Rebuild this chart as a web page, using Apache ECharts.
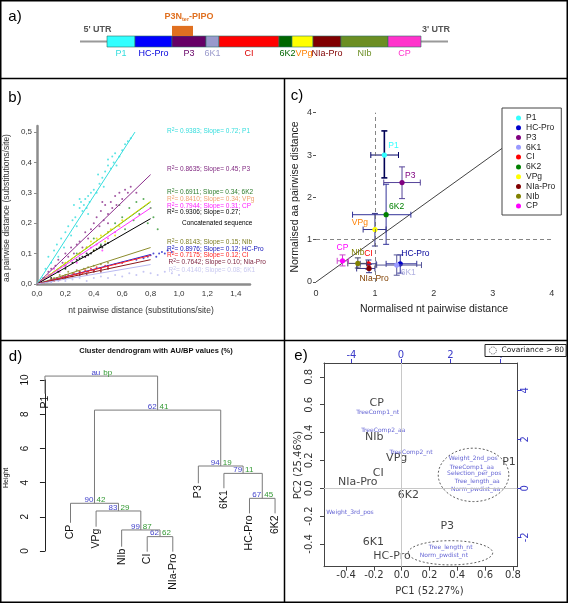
<!DOCTYPE html>
<html><head><meta charset="utf-8">
<script src="https://cdn.jsdelivr.net/npm/echarts@6/dist/echarts.min.js"></script>
<style>html,body{margin:0;padding:0;background:#fff}#c{width:568px;height:603px}</style>
</head><body><div id="c"></div>
<script>
// ================= DATA =================
// a) genome map (schematic units along the polyprotein)
const genomeLength = 368;
const geneNames = ['P1','HC-Pro','P3','6K1','CI','6K2','VPg','NIa-Pro','NIb','CP'];
const geneStart = [27,55,92,126,139,199,212,233,261,308];
const geneEnd   = [55,92,126,139,199,212,233,261,308,341];
const pipoSpan  = [92,113];

// b) aa vs nt pairwise distances
const bXTicks = [0,0.2,0.4,0.6,0.8,1.0,1.2,1.4];
const bYTicks = [0,0.1,0.2,0.3,0.4,0.5];
const bNames  = ['P1','P3','6K2','VPg','CP','Concatenated sequence','NIb','HC-Pro','CI','NIa-Pro','6K1'];
const bR2     = ['0.9383','0.8635','0.6911','0.8410','0.7944','0.9306','0.8143','0.8976','0.7175','0.7642','0.4140'];
const bSlope  = ['0.72','0.45','0.34','0.34','0.31','0.27','0.15','0.12','0.12','0.10','0.08'];
const bLineEnd = [[0.69,0.5],[0.8,0.36],[0.8,0.27],[0.8,0.272],[0.8,0.25],[0.8,0.215],[0.8,0.12],[0.8,0.097],[0.8,0.094],[0.8,0.08],[0.8,0.064]];
const ptsP1 = [[0.04,0.02],[0.06,0.05],[0.08,0.09],[0.1,0.07],[0.12,0.11],[0.14,0.13],[0.15,0.09],[0.17,0.15],[0.19,0.12],[0.2,0.17],[0.22,0.19],[0.24,0.16],[0.25,0.21],[0.27,0.22],[0.28,0.19],[0.3,0.25],[0.31,0.27],[0.32,0.24],[0.33,0.26],[0.34,0.28],[0.35,0.25],[0.36,0.29],[0.37,0.27],[0.38,0.3],[0.36,0.23],[0.4,0.31],[0.42,0.3],[0.44,0.33],[0.46,0.35],[0.48,0.37],[0.5,0.39],[0.5,0.41],[0.52,0.38],[0.53,0.42],[0.54,0.4],[0.55,0.43],[0.56,0.39],[0.58,0.42],[0.6,0.44],[0.62,0.46],[0.64,0.47],[0.66,0.48],[0.3,0.28],[0.26,0.26],[0.43,0.36],[0.47,0.32]];
const ptsP3 = [[0.05,0.02],[0.08,0.04],[0.1,0.05],[0.13,0.06],[0.15,0.08],[0.18,0.07],[0.2,0.1],[0.22,0.09],[0.24,0.12],[0.26,0.1],[0.28,0.13],[0.3,0.14],[0.32,0.12],[0.34,0.17],[0.36,0.15],[0.38,0.18],[0.4,0.2],[0.42,0.22],[0.44,0.19],[0.45,0.24],[0.47,0.21],[0.48,0.26],[0.5,0.23],[0.52,0.27],[0.53,0.25],[0.55,0.29],[0.56,0.26],[0.58,0.3],[0.6,0.28],[0.62,0.31],[0.64,0.3],[0.66,0.32],[0.7,0.3],[0.5,0.2],[0.46,0.27]];
const pts6K2 = [[0.1,0.03],[0.2,0.06],[0.28,0.1],[0.35,0.12],[0.4,0.15],[0.45,0.13],[0.5,0.17],[0.55,0.2],[0.6,0.22],[0.62,0.18],[0.65,0.25],[0.68,0.21],[0.7,0.27],[0.72,0.23],[0.75,0.28],[0.78,0.2],[0.8,0.25],[0.82,0.22],[0.85,0.18],[0.58,0.26]];
const ptsVPg = [[0.1,0.03],[0.2,0.07],[0.3,0.1],[0.35,0.12],[0.38,0.14],[0.4,0.11],[0.42,0.15],[0.45,0.16],[0.48,0.14],[0.5,0.17],[0.52,0.18],[0.55,0.16],[0.58,0.19],[0.6,0.21]];
const ptsCP  = [[0.08,0.03],[0.12,0.05],[0.16,0.04],[0.2,0.06],[0.24,0.08],[0.28,0.07],[0.3,0.1],[0.34,0.09],[0.38,0.12],[0.42,0.13],[0.46,0.11],[0.5,0.15],[0.55,0.17]];
const ptsConcat = [[0.1,0.02],[0.15,0.04],[0.2,0.05],[0.25,0.07],[0.28,0.08],[0.3,0.085],[0.32,0.09],[0.34,0.09],[0.35,0.1],[0.36,0.095],[0.38,0.1],[0.4,0.11],[0.42,0.115],[0.44,0.12],[0.45,0.125],[0.46,0.12],[0.48,0.13],[0.5,0.135]];
const ptsNIb = [[0.08,0.01],[0.12,0.02],[0.16,0.03],[0.2,0.03],[0.22,0.04],[0.25,0.035],[0.28,0.045],[0.3,0.04],[0.33,0.05],[0.36,0.055],[0.4,0.06],[0.45,0.065],[0.5,0.07]];
const ptsHCPro = [[0.2,0.02],[0.3,0.035],[0.35,0.04],[0.4,0.045],[0.45,0.05],[0.5,0.06],[0.6,0.07],[0.7,0.08],[0.75,0.085],[0.78,0.09],[0.8,0.095],[0.82,0.1],[0.84,0.09],[0.86,0.1],[0.88,0.105],[0.9,0.1],[0.92,0.11],[0.95,0.105]];
const ptsCI = [[0.05,0.005],[0.08,0.01],[0.1,0.015],[0.12,0.01],[0.14,0.02],[0.16,0.015],[0.18,0.025],[0.2,0.02],[0.22,0.03],[0.24,0.025],[0.26,0.035],[0.28,0.03],[0.3,0.04],[0.32,0.035],[0.34,0.045],[0.36,0.04],[0.38,0.05],[0.4,0.045],[0.42,0.055],[0.45,0.05],[0.48,0.06],[0.5,0.055],[0.55,0.065],[0.6,0.07]];
const ptsNIaPro = [[0.1,0.01],[0.15,0.015],[0.2,0.02],[0.25,0.025],[0.3,0.03],[0.35,0.03],[0.4,0.04],[0.45,0.04],[0.5,0.05]];
const pts6K1 = [[0.1,0.005],[0.15,0.01],[0.2,0.01],[0.25,0.015],[0.3,0.02],[0.35,0.01],[0.4,0.02],[0.45,0.025],[0.5,0.02],[0.55,0.03],[0.6,0.025],[0.65,0.035],[0.7,0.03],[0.75,0.04],[0.8,0.035],[0.85,0.03],[0.9,0.04],[0.95,0.035],[1.0,0.03]];

// c) normalised distances: value, low, high
const cNames = ['P1','HC-Pro','P3','6K1','CI','6K2','VPg','NIa-Pro','NIb','CP'];
const cNt    = [1.16,1.43,1.46,1.37,0.89,1.19,1.00,0.90,0.71,0.45];
const cNtLo  = [0.93,1.19,1.15,1.03,0.75,0.62,0.80,0.69,0.54,0.36];
const cNtHi  = [1.40,1.71,1.77,1.79,1.02,1.61,1.19,1.00,0.86,0.55];
const cAa    = [3.00,0.43,2.35,0.40,0.43,1.59,1.24,0.32,0.44,0.50];
const cAaLo  = [2.46,0.21,1.97,0.16,0.30,0.89,0.85,0.22,0.33,0.38];
const cAaHi  = [3.57,0.64,2.72,0.64,0.52,2.31,1.62,0.42,0.57,0.64];
const cIdentity = [[0,0],[4,4]];
const cTicks = [0,1,2,3,4];

// d) dendrogram (R hclust style merge matrix)
const dLeaves = ['P1','CP','VPg','NIb','CI','NIa-Pro','P3','6K1','HC-Pro','6K2'];
const dLeafEnd = [9.2,1.65,1.42,0.25,-0.04,-0.04,3.96,3.67,2.2,2.2];
const dMerge  = [[-5,-6],[-4,1],[-3,2],[-2,3],[-9,-10],[-8,5],[-7,6],[4,7],[-1,8]];
const dHeight = [0.84,1.23,2.34,2.79,3.08,4.54,4.97,8.24,10.23];
const dAU = ['62','99','83','90','67','79','94','62','au'];
const dBP = ['62','87','29','42','45','11','19','41','bp'];
const dTicks = [0,2,4,6,8,10];

// e) PCA biplot
const eSamples = ['CP','NIb','VPg','CI','NIa-Pro','6K2','P1','P3','6K1','HC-Pro'];
const eSampleX = [-0.18,-0.197,-0.036,-0.168,-0.316,0.048,0.772,0.328,-0.204,-0.07];
const eSampleY = [0.61,0.365,0.215,0.108,0.043,-0.048,0.19,-0.27,-0.39,-0.49];
const eVars = ['TreeComp1_nt','TreeComp2_aa','TreeComp2_nt','Weight_2nd_pos','TreeComp1_aa','Selection_per_pos','Tree_length_aa','Norm_pwdist_aa','Weight_3rd_pos','Tree_length_nt','Norm_pwdist_nt'];
const eVarX = [-0.173,-0.132,0.067,0.515,0.504,0.522,0.544,0.532,-0.372,0.352,0.304];
const eVarY = [0.547,0.414,0.259,0.216,0.148,0.103,0.048,-0.007,-0.173,-0.427,-0.485];
const eEllipses = [[0.517,0.096,0.254,0.192],[0.351,-0.464,0.304,0.087]];
const ePCTicks = [-0.4,-0.2,0,0.2,0.4,0.6,0.8];
const eLoadTicks = [-2,0,2,4];
const eTopLabels = ['-4','0','2','4'];
const eRightLabels = ['-2','0','2','4'];

// ================= STYLE =================
const SANS = '"Liberation Sans", Arial, Helvetica, sans-serif';
const DEJA = '"DejaVu Sans", "Liberation Sans", sans-serif';
const geneFill  = ['#33FFFF','#0000FF','#660066','#9999CC','#FF0000','#006600','#FFFF00','#800000','#6B8E23','#FF33CC'];
const geneLabel = ['#33DDDD','#0000DD','#660066','#9999CC','#DD0000','#006600','#FF8000','#800000','#6B8E23','#FF33CC'];
const bColor = ['#33DDDD','#8B2D8B','#339933','#E0E000','#FF33FF','#000000','#8B8B2B','#2222CC','#FF2222','#8B1A1A','#B8B8F0'];
const bText  = ['#33DDDD','#7B1F7B','#2E7D2E','#F0A070','#FF22FF','#000000','#7A7A20','#1111BB','#FF2222','#7B1F3B','#C8C8F0'];
const bTextY = [131,169,192,199,206,212.5,242,249,255.5,262,270];
const bPts = [ptsP1,ptsP3,pts6K2,ptsVPg,ptsCP,ptsConcat,ptsNIb,ptsHCPro,ptsCI,ptsNIaPro,pts6K1];
const cColor = ['#33FFFF','#0000CC','#800080','#9999FF','#FF0000','#008000','#FFFF00','#800000','#808000','#FF00FF'];
const cLabelColor = ['#33FFFF','#000099','#800080','#B0B0E0','#FF0000','#008000','#FF8000','#804000','#808000','#FF00FF'];
const cLabelOff = [[4,-9,'left'],[1,-10,'left'],[3,-7,'left'],[4,8,'left'],[0,-10,'center'],[3,-8,'left'],[-7,-7,'right'],[5,10,'center'],[0,-11,'center'],[0,-13,'center']];
const cErrColor = ['#000066','#333399','#554499','#555599','#333388','#333399','#333388','#333388','#444466','#CC44CC'];

// ================= BUILD =================
const chart = echarts.init(document.getElementById('c'), null, {width:568, height:603});

const series = [];
// ---- a)
series.push({type:'line', xAxisIndex:0, yAxisIndex:0, data:[[0,0.5],[genomeLength,0.5]], showSymbol:false, silent:true,
  lineStyle:{color:'#999', width:2}, z:1});
series.push({type:'custom', name:'genome', xAxisIndex:0, yAxisIndex:0, silent:true, z:3,
  data: geneNames.map((n,i)=>[geneStart[i], geneEnd[i], i]),
  renderItem:(p, api)=>{
    const i = api.value(2);
    const p0 = api.coord([api.value(0),0]), p1 = api.coord([api.value(1),1]);
    return {type:'group', children:[
      {type:'rect', shape:{x:p0[0], y:p1[1], width:p1[0]-p0[0], height:p0[1]-p1[1]}, style:{fill:geneFill[i], stroke:'#2d6e66', lineWidth:0.6}},
      {type:'text', x:(p0[0]+p1[0])/2 + (i===6?1.5:(i===5?2:0)), y:p0[1]+6.5, style:{text:geneNames[i], font:'9px '+SANS, fill:geneLabel[i], align:'center', verticalAlign:'middle'}}
    ]};
  }});
series.push({type:'custom', name:'pipo', xAxisIndex:0, yAxisIndex:0, silent:true, z:3,
  data:[[pipoSpan[0], pipoSpan[1]]],
  renderItem:(p, api)=>{
    const p0 = api.coord([api.value(0),1]), p1 = api.coord([api.value(1),1.92]);
    return {type:'group', children:[
      {type:'rect', shape:{x:p0[0], y:p1[1], width:p1[0]-p0[0], height:p0[1]-p1[1]}, style:{fill:'#E07020'}},
      {type:'text', x:(p0[0]+p1[0])/2+6.5, y:p1[1]-9, style:{text:'{a|P3N}{b|ter}{a|-PIPO}', align:'center', verticalAlign:'middle',
        rich:{a:{font:'bold 9px '+SANS, fill:'#E07020'}, b:{font:'bold 5.5px '+SANS, fill:'#E07020', padding:[5,0,0,0]}}}}
    ]};
  }});

// ---- b)
bPts.forEach((pts,i)=>{
  series.push({type:'scatter', name:'b-'+bNames[i], xAxisIndex:1, yAxisIndex:1, data:pts, symbolSize:2, silent:true,
    itemStyle:{color:bColor[i], opacity:0.8}, z:2});
});
bLineEnd.forEach((e,i)=>{
  series.push({type:'line', name:'bl-'+bNames[i], xAxisIndex:1, yAxisIndex:1, data:[[0,0],e], showSymbol:false, silent:true,
    lineStyle:{color:bColor[i], width:1}, z:3});
});

// ---- c)
series.push({type:'line', name:'identity', xAxisIndex:2, yAxisIndex:2, data:cIdentity, showSymbol:false, silent:true,
  lineStyle:{color:'#111', width:0.8}, z:1,
  markLine:{silent:true, symbol:'none', label:{show:false}, lineStyle:{color:'#666', type:[4,3], width:0.8},
    data:[{xAxis:1},{yAxis:1}]}});
cNames.forEach((n,i)=>{
  series.push({type:'custom', name:n, xAxisIndex:2, yAxisIndex:2, silent:true, z:3,
    itemStyle:{color:cColor[i]},
    data:[[cNt[i],cAa[i],cNtLo[i],cNtHi[i],cAaLo[i],cAaHi[i]]],
    renderItem:(p, api)=>{
      const c = api.coord([api.value(0),api.value(1)]);
      const xl = api.coord([api.value(2),api.value(1)])[0], xh = api.coord([api.value(3),api.value(1)])[0];
      const yl = api.coord([api.value(0),api.value(4)])[1], yh = api.coord([api.value(0),api.value(5)])[1];
      const ec = cErrColor[i], cap = 3, ls = {stroke:ec, lineWidth:1};
      const vs = {stroke: i===0 ? '#000055' : ec, lineWidth: i===0 ? 1.6 : 1};
      const off = cLabelOff[i];
      return {type:'group', children:[
        {type:'line', shape:{x1:xl,y1:c[1],x2:xh,y2:c[1]}, style:ls},
        {type:'line', shape:{x1:xl,y1:c[1]-cap,x2:xl,y2:c[1]+cap}, style:ls},
        {type:'line', shape:{x1:xh,y1:c[1]-cap,x2:xh,y2:c[1]+cap}, style:ls},
        {type:'line', shape:{x1:c[0],y1:yl,x2:c[0],y2:yh}, style:vs},
        {type:'line', shape:{x1:c[0]-cap,y1:yl,x2:c[0]+cap,y2:yl}, style:vs},
        {type:'line', shape:{x1:c[0]-cap,y1:yh,x2:c[0]+cap,y2:yh}, style:vs},
        {type:'circle', shape:{cx:c[0], cy:c[1], r:2.6}, style:{fill:cColor[i]}},
        {type:'text', x:c[0]+off[0], y:c[1]+off[1], style:{text:n, font:'8.5px '+SANS, fill:cLabelColor[i], align:off[2], verticalAlign:'middle'}}
      ]};
    }});
});

// ---- d)
const nodeX = [];
function childInfo(c){ if(c<0){const li=-c-1; return {x:li, bottom:dLeafEnd[li]};} return {x:nodeX[c-1], bottom:dHeight[c-1]}; }
const dData = dMerge.map((m,k)=>{ const a=childInfo(m[0]), b=childInfo(m[1]); nodeX[k]=(a.x+b.x)/2; return [a.x,a.bottom,b.x,b.bottom,dHeight[k],k]; });
series.push({type:'custom', name:'dendro', xAxisIndex:3, yAxisIndex:3, silent:true, clip:false, z:3,
  data:dData,
  renderItem:(p, api)=>{
    const k = api.value(5), h = api.value(4);
    const a0 = api.coord([api.value(0),api.value(1)]), a1 = api.coord([api.value(0),h]);
    const b1 = api.coord([api.value(2),h]), b0 = api.coord([api.value(2),api.value(3)]);
    const nx = (a1[0]+b1[0])/2;
    return {type:'group', children:[
      {type:'polyline', shape:{points:[a0,a1,b1,b0]}, style:{stroke:'#7a7a7a', lineWidth:1, fill:null}},
      {type:'text', x:nx-1, y:a1[1]+0.5, style:{text:dAU[k], font:'8px '+SANS, fill:'#4444CC', align:'right', verticalAlign:'bottom'}},
      {type:'text', x:nx+2, y:a1[1]+0.5, style:{text:dBP[k], font:'8px '+SANS, fill:'#339933', align:'left', verticalAlign:'bottom'}}
    ]};
  }});
series.push({type:'custom', name:'leaves', xAxisIndex:3, yAxisIndex:3, silent:true, clip:false, z:3,
  data:dLeaves.map((n,i)=>[i,dLeafEnd[i],i]),
  renderItem:(p, api)=>{
    const c = api.coord([api.value(0),api.value(1)]);
    return {type:'text', x:c[0], y:c[1]+2, rotation:Math.PI/2,
      style:{text:dLeaves[api.value(2)], font:'10.5px '+SANS, fill:'#111', align:'right', verticalAlign:'middle'}};
  }});

// ---- e)
series.push({type:'scatter', name:'samples', xAxisIndex:4, yAxisIndex:4, silent:true, symbolSize:0.1, z:4,
  data:eSamples.map((n,i)=>[eSampleX[i],eSampleY[i],n]),
  label:{show:true, position:'inside', formatter:p=>p.value[2], fontFamily:DEJA, fontSize:11, color:'#111'},
  itemStyle:{color:'transparent'},
  markLine:{silent:true, symbol:'none', label:{show:false}, lineStyle:{color:'#c8c8c8', type:'solid', width:1},
    data:[{xAxis:0},{yAxis:0}]}});
series.push({type:'scatter', name:'vars', xAxisIndex:4, yAxisIndex:4, silent:true, symbolSize:0.1, z:4,
  data:eVars.map((n,i)=>[eVarX[i],eVarY[i],n]),
  label:{show:true, position:'inside', formatter:p=>p.value[2], fontFamily:DEJA, fontSize:6, color:'#3A3AC8'},
  itemStyle:{color:'transparent'}});
series.push({type:'custom', name:'Covariance > 80', xAxisIndex:4, yAxisIndex:4, silent:true, z:3,
  itemStyle:{color:'#fff', borderColor:'#333'},
  data:eEllipses,
  renderItem:(p, api)=>{
    const c = api.coord([api.value(0),api.value(1)]);
    const s = api.size([api.value(2),api.value(3)]);
    const pts = [];
    for(let t=0;t<=72;t++){ const a=t/72*Math.PI*2; pts.push([c[0]+s[0]*Math.cos(a), c[1]+s[1]*Math.sin(a)]); }
    return {type:'polygon', shape:{points:pts}, style:{fill:null, stroke:'#333', lineWidth:0.8, lineDash:[2,2]}};
  }});

const fmtComma = v => v.toFixed(1).replace('.',',');
const noSplit = {show:false};
const lookup = (vals, labels) => v => { const k = vals.findIndex(t => Math.abs(t - v) < 1e-9); return k >= 0 ? labels[k] : ''; };

const option = {
  animation:false,
  backgroundColor:'#fff',
  grid:[
    {left:80, top:36, width:368, height:11},
    {left:37, top:126, width:213, height:158},
    {left:316, top:112.7, width:235.7, height:169.3},
    {left:36, top:380, width:248, height:171},
    {left:324, top:363, width:193.3, height:203.7}
  ],
  xAxis:[
    {gridIndex:0, type:'value', min:0, max:genomeLength, show:false},
    {gridIndex:1, type:'value', min:0, max:1.5, splitLine:noSplit,
      axisLine:{lineStyle:{color:'#8c8c8c', width:2.5}}, axisTick:{show:false},
      axisLabel:{customValues:bXTicks, formatter:fmtComma, fontFamily:SANS, fontSize:8, color:'#333', margin:6}},
    {gridIndex:2, type:'value', min:0, max:4, interval:1, splitLine:noSplit,
      axisLine:{show:false}, axisTick:{show:false},
      axisLabel:{customValues:cTicks, fontFamily:SANS, fontSize:9, color:'#333', margin:7}},
    {gridIndex:3, type:'value', min:-0.35, max:9.35, show:false},
    {gridIndex:4, type:'value', min:-0.559, max:0.832, position:'bottom', splitLine:noSplit,
      axisLine:{onZero:false, lineStyle:{color:'#444', width:1}},
      axisTick:{customValues:ePCTicks, length:4, lineStyle:{color:'#444'}},
      axisLabel:{customValues:ePCTicks, formatter:v=>v.toFixed(1), fontFamily:DEJA, fontSize:10, color:'#333', margin:4}},
    {gridIndex:4, type:'value', min:-3.11, max:4.7, position:'top', splitLine:noSplit,
      axisLine:{onZero:false, lineStyle:{color:'#444', width:1}},
      axisTick:{customValues:eLoadTicks, length:4, lineStyle:{color:'#3A3AC8'}},
      axisLabel:{customValues:eLoadTicks, formatter:lookup(eLoadTicks, eTopLabels), fontFamily:DEJA, fontSize:10, color:'#3A3AC8', margin:3}}
  ],
  yAxis:[
    {gridIndex:0, type:'value', min:0, max:1, show:false},
    {gridIndex:1, type:'value', min:0, max:0.52, splitLine:noSplit,
      axisLine:{show:true, lineStyle:{color:'#8c8c8c', width:2.5}}, axisTick:{show:true, customValues:bYTicks, length:3, lineStyle:{color:'#8c8c8c'}},
      axisLabel:{customValues:bYTicks, formatter:fmtComma, fontFamily:SANS, fontSize:8, color:'#333', margin:5}},
    {gridIndex:2, type:'value', min:0, max:4, interval:1, splitLine:noSplit,
      axisLine:{show:false}, axisTick:{show:true, length:3, lineStyle:{color:'#555'}},
      axisLabel:{customValues:cTicks, fontFamily:SANS, fontSize:9, color:'#333', margin:4}},
    {gridIndex:3, type:'value', min:0, max:10, interval:2, splitLine:noSplit,
      axisLine:{show:true, lineStyle:{color:'#222', width:1}}, axisTick:{show:true, length:5, lineStyle:{color:'#222'}},
      axisLabel:{customValues:dTicks, rotate:90, fontFamily:SANS, fontSize:10, color:'#111', margin:6}},
    {gridIndex:4, type:'value', min:-0.564, max:0.9, position:'left', splitLine:noSplit,
      axisLine:{show:true, onZero:false, lineStyle:{color:'#444', width:1}},
      axisTick:{show:true, customValues:ePCTicks, length:4, lineStyle:{color:'#444'}},
      axisLabel:{customValues:ePCTicks, formatter:v=>v.toFixed(1), rotate:90, fontFamily:DEJA, fontSize:10, color:'#333', margin:10}},
    {gridIndex:4, type:'value', min:-3.2, max:5.11, position:'right', splitLine:noSplit,
      axisLine:{show:true, onZero:false, lineStyle:{color:'#444', width:1}},
      axisTick:{show:true, customValues:eLoadTicks, length:4, lineStyle:{color:'#3A3AC8'}},
      axisLabel:{customValues:eLoadTicks, formatter:lookup(eLoadTicks, eRightLabels), rotate:90, fontFamily:DEJA, fontSize:10, color:'#3A3AC8', margin:3}}
  ],
  legend:[
    {data:cNames, orient:'vertical', left:502, top:108, icon:'circle', itemWidth:5, itemHeight:5, itemGap:0,
      padding:[5,6,4,14], backgroundColor:'#fff', borderColor:'#444', borderWidth:1, selectedMode:false,
      textStyle:{fontFamily:SANS, fontSize:8.5, color:'#222', lineHeight:9.8}},
    {data:['Covariance > 80'], left:485, top:344.5, icon:'circle', itemWidth:7, itemHeight:7, selectedMode:false,
      padding:[2,2,2,4], backgroundColor:'#fff', borderColor:'#222', borderWidth:1,
      itemStyle:{color:'#fff', borderColor:'#333', borderWidth:0.8, borderType:'dotted'},
      textStyle:{fontFamily:DEJA, fontSize:7.5, color:'#222'}}
  ],
  series:series,
  graphic:{elements:[]}
};

const G = option.graphic.elements;
// borders
G.push({type:'rect', shape:{x:0.75,y:0.75,width:566.5,height:601.5}, style:{fill:null, stroke:'#000', lineWidth:1.5}, silent:true, z:100});
G.push({type:'line', shape:{x1:0,y1:78.5,x2:568,y2:78.5}, style:{stroke:'#000', lineWidth:1.5}, silent:true, z:100});
G.push({type:'line', shape:{x1:284.5,y1:78.5,x2:284.5,y2:603}, style:{stroke:'#000', lineWidth:1.5}, silent:true, z:100});
G.push({type:'line', shape:{x1:0,y1:340.5,x2:568,y2:340.5}, style:{stroke:'#000', lineWidth:1.5}, silent:true, z:100});
// panel letters
[['a)',15,16.5],['b)',15,98],['c)',297,96],['d)',15.5,356.5],['e)',301,355.5]].forEach(t=>{
  G.push({type:'text', x:t[1], y:t[2], style:{text:t[0], font:'15px '+SANS, fill:'#000', align:'center', verticalAlign:'middle'}, silent:true, z:100});
});
// a) UTR labels
G.push({type:'text', x:97.5, y:30, style:{text:"5' UTR", font:'bold 9px '+SANS, fill:'#555', align:'center', verticalAlign:'middle'}, silent:true});
G.push({type:'text', x:436, y:30, style:{text:"3' UTR", font:'bold 9px '+SANS, fill:'#555', align:'center', verticalAlign:'middle'}, silent:true});
// b) R2 labels
bNames.forEach((n,i)=>{
  const nm = (i===5) ? '' : ' '+n;
  G.push({type:'text', x:(i>=9?168.5:167), y:bTextY[i], silent:true, z:50,
    style:{text:'{r|R}{s|2}{r|= '+bR2[i]+'; Slope= '+bSlope[i]+';'+nm+'}', align:'left', verticalAlign:'middle',
      rich:{r:{font:'6.5px '+SANS, fill:bText[i], lineHeight:8}, s:{font:'5px '+SANS, fill:bText[i], lineHeight:8, verticalAlign:'top'}}}});
});
G.push({type:'text', x:182, y:223.5, silent:true, z:50, style:{text:'Concatenated sequence', font:'6.5px '+SANS, fill:'#000', align:'left', verticalAlign:'middle'}});
// b) axis titles
G.push({type:'text', x:141, y:311, silent:true, style:{text:'nt pairwise distance (substitutions/site)', font:'8.5px '+SANS, fill:'#333', align:'center', verticalAlign:'middle'}});
G.push({type:'text', x:7, y:208, rotation:Math.PI/2, silent:true, style:{text:'aa pairwise distance (substitutions/site)', font:'8.5px '+SANS, fill:'#333', align:'center', verticalAlign:'middle'}});
// c) axis titles
G.push({type:'text', x:434, y:309.5, silent:true, style:{text:'Normalised nt pairwise distance', font:'10.5px '+SANS, fill:'#222', align:'center', verticalAlign:'middle'}});
G.push({type:'text', x:295, y:197, rotation:Math.PI/2, silent:true, style:{text:'Normalised aa pairwise distance', font:'10.5px '+SANS, fill:'#222', align:'center', verticalAlign:'middle'}});
// d) titles
G.push({type:'text', x:156, y:350.7, silent:true, style:{text:'Cluster dendrogram with AU/BP values (%)', font:'bold 7.5px '+SANS, fill:'#111', align:'center', verticalAlign:'middle'}});
G.push({type:'text', x:6, y:478, rotation:Math.PI/2, silent:true, style:{text:'Height', font:'7px '+SANS, fill:'#111', align:'center', verticalAlign:'middle'}});
// e) axis titles
G.push({type:'text', x:429.5, y:591.5, silent:true, style:{text:'PC1 (52.27%)', font:'10px '+DEJA, fill:'#333', align:'center', verticalAlign:'middle'}});
G.push({type:'text', x:298.5, y:465, rotation:Math.PI/2, silent:true, style:{text:'PC2 (25.46%)', font:'10px '+DEJA, fill:'#333', align:'center', verticalAlign:'middle'}});

chart.setOption(option);
</script>
</body></html>
